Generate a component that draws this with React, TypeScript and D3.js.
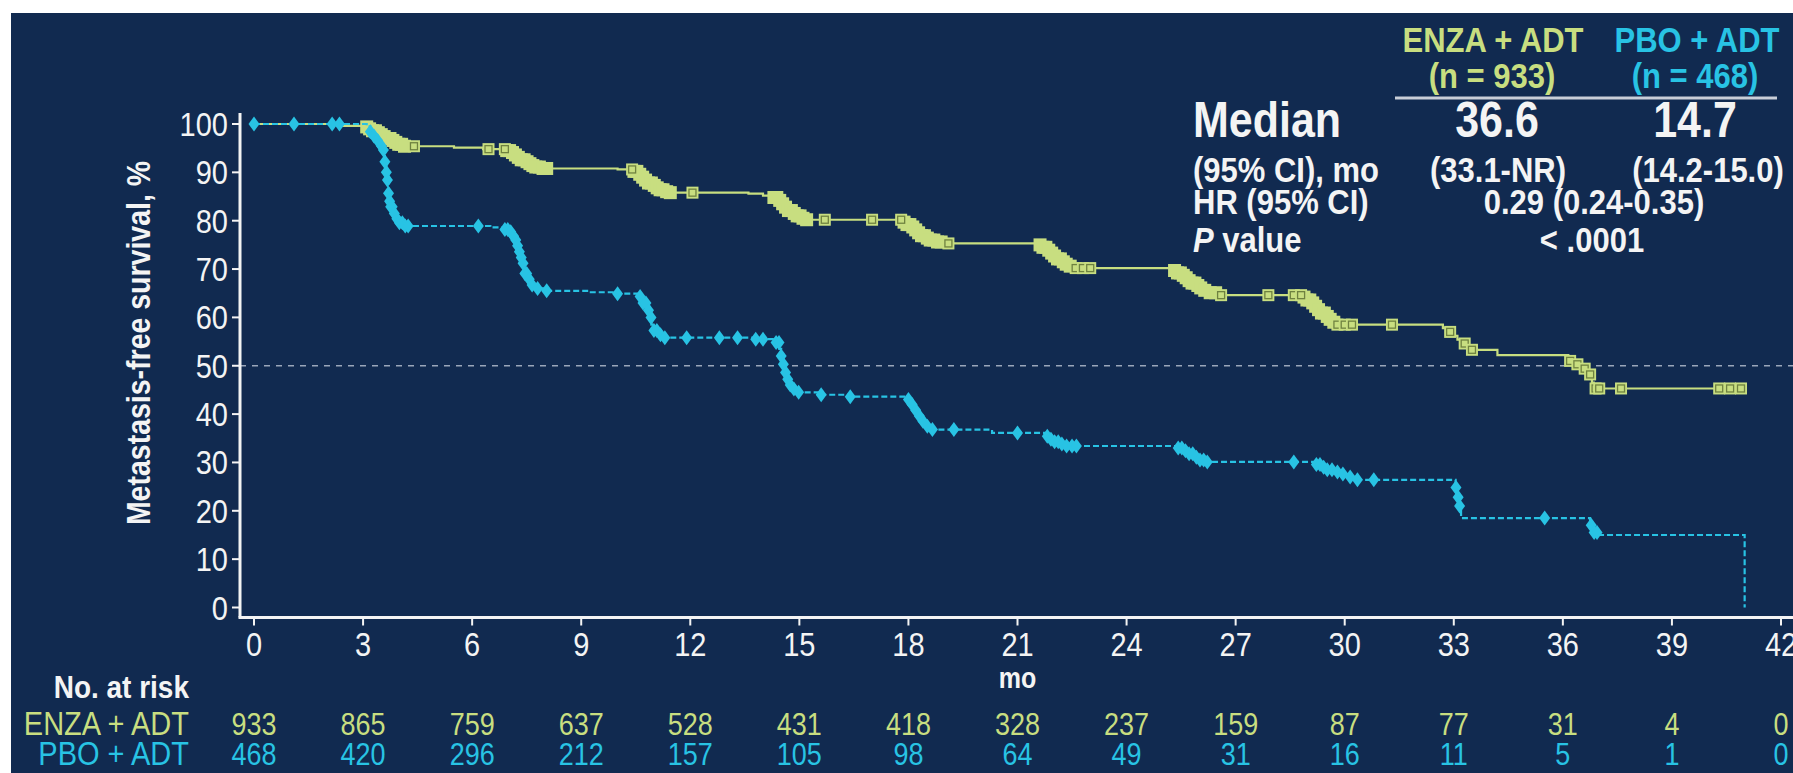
import React from "react";
import * as d3 from "d3";

// ---------- data ----------
const xTicks = [0, 3, 6, 9, 12, 15, 18, 21, 24, 27, 30, 33, 36, 39, 42];
const yTicks = [0, 10, 20, 30, 40, 50, 60, 70, 80, 90, 100];

const enzaRisk = [933, 865, 759, 637, 528, 431, 418, 328, 237, 159, 87, 77, 31, 4, 0];
const pboRisk = [468, 420, 296, 212, 157, 105, 98, 64, 49, 31, 16, 11, 5, 1, 0];

// ENZA + ADT Kaplan-Meier knots [month, survival %]
const enzaKnots: [number, number][] = [
  [0, 100], [2.3, 99.6],
  [3.05, 99.4], [3.15, 99.0], [3.25, 98.6], [3.35, 98.2], [3.45, 97.8], [3.55, 97.4], [3.65, 97.0], [3.75, 96.6], [3.85, 96.2], [3.95, 95.8], [4.1, 95.4],
  [5.5, 95.1], [6.3, 94.8],
  [6.95, 94.5], [7.05, 94.1], [7.15, 93.6], [7.25, 93.1], [7.35, 92.6], [7.45, 92.2], [7.55, 91.8], [7.65, 91.4], [7.75, 91.1], [7.9, 90.8],
  [10.0, 90.6],
  [10.45, 90.2], [10.55, 89.6], [10.65, 89.0], [10.75, 88.4], [10.85, 87.8], [10.95, 87.3], [11.05, 86.8], [11.15, 86.4], [11.3, 86.0], [11.45, 85.8],
  [13.6, 85.6], [14.0, 85.2],
  [14.3, 84.8], [14.4, 84.2], [14.5, 83.5], [14.6, 82.8], [14.7, 82.1], [14.8, 81.5], [14.9, 81.0], [15.05, 80.5], [15.2, 80.2],
  [17.85, 79.7], [17.95, 79.2], [18.05, 78.7], [18.15, 78.1], [18.25, 77.5], [18.35, 76.9], [18.45, 76.4], [18.6, 76.0], [18.75, 75.6], [18.95, 75.3],
  [21.6, 75.0], [21.7, 74.5], [21.8, 73.9], [21.9, 73.3], [22.0, 72.7], [22.1, 72.1], [22.2, 71.5], [22.3, 71.0], [22.45, 70.6], [22.6, 70.2],
  [25.3, 69.7], [25.4, 69.2], [25.5, 68.7], [25.6, 68.2], [25.7, 67.6], [25.8, 67.1], [25.9, 66.6], [26.0, 66.1], [26.15, 65.6], [26.3, 65.1], [26.5, 64.6],
  [28.85, 64.2], [28.95, 63.6], [29.05, 63.0], [29.15, 62.3], [29.25, 61.6], [29.35, 60.9], [29.45, 60.2], [29.55, 59.6], [29.65, 59.0], [29.8, 58.5],
  [32.7, 57.8], [32.85, 57.0], [33.0, 56.2], [33.1, 55.4], [33.2, 54.6], [33.35, 53.9], [33.5, 53.3],
  [34.2, 52.2],
  [36.15, 51.0], [36.35, 50.3], [36.55, 49.4], [36.7, 48.2], [36.8, 46.5], [36.85, 45.3],
  [40.95, 45.3],
];

// ENZA censor marks (open squares)
const enzaCensor = [4.4, 6.45, 6.9, 10.4, 12.06, 15.7, 17.0, 17.8, 19.1, 22.6, 22.8, 23.0, 26.6, 27.9, 28.6, 28.8,
  29.8, 30.0, 30.2, 31.3, 32.9, 33.3, 33.5, 36.2, 36.4, 36.6, 36.75, 36.9, 37.0, 37.6, 40.3, 40.6, 40.9];
// dense ENZA marks along steep drops
const enzaDense = [3.1, 3.18, 3.26, 3.34, 3.42, 3.5, 3.58, 3.66, 3.74, 3.82, 3.9, 3.98, 4.06, 4.14,
  6.95, 7.03, 7.11, 7.19, 7.27, 7.35, 7.43, 7.51, 7.59, 7.67, 7.75, 7.85, 7.95, 8.05,
  10.45, 10.53, 10.61, 10.69, 10.77, 10.85, 10.93, 11.01, 11.09, 11.17, 11.25, 11.35, 11.45,
  14.3, 14.38, 14.46, 14.54, 14.62, 14.7, 14.78, 14.86, 14.94, 15.02, 15.1, 15.2,
  17.88, 17.96, 18.04, 18.12, 18.2, 18.28, 18.36, 18.44, 18.52, 18.6, 18.7, 18.8, 18.9,
  21.62, 21.7, 21.78, 21.86, 21.94, 22.02, 22.1, 22.18, 22.26, 22.34, 22.45,
  25.32, 25.4, 25.48, 25.56, 25.64, 25.72, 25.8, 25.88, 25.96, 26.04, 26.15, 26.3, 26.45,
  28.88, 28.96, 29.04, 29.12, 29.2, 29.28, 29.36, 29.44, 29.52, 29.6, 29.7];

// PBO + ADT Kaplan-Meier knots [month, survival %]
const pboKnots: [number, number][] = [
  [0, 100],
  [3.1, 99.5], [3.2, 98.4], [3.3, 97.5], [3.4, 96.6], [3.5, 95.5], [3.56, 94.6], [3.6, 92.2], [3.64, 90.0], [3.67, 88.4], [3.7, 85.7], [3.73, 84.0], [3.76, 82.9], [3.82, 81.5], [3.9, 80.4], [4.0, 79.6], [4.15, 78.9],
  [6.5, 78.6],
  [6.9, 78.2], [7.0, 77.7], [7.1, 76.8], [7.18, 76.0], [7.23, 74.8], [7.27, 73.6], [7.32, 72.4], [7.36, 71.2], [7.41, 70.1], [7.45, 69.1], [7.52, 67.9], [7.59, 66.7], [7.75, 66.0], [7.95, 65.5],
  [9.2, 65.2], [10.0, 64.9],
  [10.6, 64.3], [10.7, 63.0], [10.8, 61.5], [10.87, 60.0], [10.93, 58.5], [11.0, 57.3], [11.1, 56.4], [11.25, 55.8],
  [13.8, 55.5],
  [14.35, 54.8], [14.45, 53.5], [14.5, 52.0], [14.55, 50.3], [14.6, 48.6], [14.65, 47.2], [14.72, 46.0], [14.8, 45.2], [14.95, 44.5],
  [15.6, 44.0], [16.4, 43.6],
  [17.95, 43.0], [18.05, 42.0], [18.15, 40.8], [18.25, 39.6], [18.35, 38.5], [18.5, 37.5], [18.65, 36.8],
  [20.3, 36.1],
  [21.8, 35.4], [21.9, 34.8], [22.0, 34.3], [22.15, 33.8], [22.35, 33.4],
  [25.4, 33.0], [25.55, 32.4], [25.7, 31.8], [25.85, 31.1], [26.0, 30.5], [26.15, 30.1],
  [29.2, 29.6], [29.35, 29.0], [29.5, 28.5], [29.7, 28.0], [29.9, 27.6], [30.1, 27.0], [30.3, 26.4],
  [33.05, 24.8], [33.1, 22.8], [33.15, 21.0], [33.2, 18.5],
  [36.75, 17.0], [36.85, 15.5], [36.95, 15.0],
  [41.0, 0],
];

// PBO censor marks (filled diamonds)
const pboCensor = [0, 1.1, 2.15, 2.35,
  3.2, 3.3, 3.4, 3.5, 3.56, 3.6, 3.64, 3.67, 3.7, 3.73, 3.76, 3.8, 3.86, 3.93, 4.0, 4.08, 4.16, 4.24,
  6.17, 6.9, 6.98, 7.06, 7.14, 7.2, 7.25, 7.3, 7.35, 7.4, 7.45, 7.5, 7.57, 7.65, 7.8, 8.05,
  10.0, 10.62, 10.7, 10.78, 10.85, 10.92, 11.0, 11.08, 11.18, 11.3, 11.9, 12.8, 13.3, 13.8, 14.0,
  14.36, 14.44, 14.5, 14.56, 14.62, 14.68, 14.75, 14.85, 14.98, 15.6, 16.4,
  18.0, 18.1, 18.2, 18.3, 18.4, 18.52, 18.66, 19.25, 21.0,
  21.82, 21.92, 22.02, 22.12, 22.22, 22.35, 22.5, 22.62,
  25.42, 25.52, 25.62, 25.72, 25.82, 25.92, 26.02, 26.12, 26.22, 28.6,
  29.22, 29.32, 29.42, 29.52, 29.65, 29.8, 29.95, 30.15, 30.35, 30.8,
  33.06, 33.12, 33.16, 35.5, 36.78, 36.86, 36.94];

// ---------- helpers ----------
const survAt = (knots: [number, number][], t: number) => {
  let s = knots[0][1];
  for (const [kt, ks] of knots) {
    if (kt <= t + 1e-9) s = ks;
    else break;
  }
  return s;
};

const W = 1793;
const H = 773;
const BG = "#112a50";
const GREEN = "#c8de80";
const BLUE = "#28c3e4";
const WHITE = "#f4f4f4";
const FONT = "'Liberation Sans', Arial, Helvetica, sans-serif";
const K = 1.15; // glyph height stretch seen in the reference

type TProps = {
  x: number;
  y: number;
  size: number;
  fill?: string;
  anchor?: "start" | "middle" | "end";
  bold?: boolean;
  rotate?: number;
  dy?: string;
  children: React.ReactNode;
};
const T = ({ x, y, size, fill = WHITE, anchor = "start", bold = false, rotate, dy, children }: TProps) => (
  <text
    transform={`translate(${x},${y})${rotate ? ` rotate(${rotate})` : ""} scale(1,${K})`}
    textAnchor={anchor}
    fill={fill}
    fontSize={size}
    fontWeight={bold ? "bold" : "normal"}
    dy={dy}
  >
    {children}
  </text>
);

export default function App() {
  const x = d3.scaleLinear().domain([0, 42]).range([254, 1781]);
  const y = d3.scaleLinear().domain([0, 100]).range([607.5, 124]);
  const line = d3
    .line<[number, number]>()
    .x((d) => x(d[0]))
    .y((d) => y(d[1]))
    .curve(d3.curveStepAfter);

  const axisY = 617.5;
  const axisX = 240;

  const diamond = "M0,-7.5L5.5,0L0,7.5L-5.5,0Z";

  return (
    <svg
      width={W}
      height={H}
      style={{ position: "absolute", left: 0, top: 0 }}
      fontFamily={FONT}
    >
      <rect x={0} y={0} width={W} height={H} fill="#ffffff" />
      <rect x={11} y={13} width={W - 11} height={H - 13} fill={BG} />

      {/* 50% reference */}
      <line x1={axisX} x2={W} y1={y(50)} y2={y(50)} stroke="#9aa6ba" strokeWidth={1.5} strokeDasharray="6 6" />

      {/* axes */}
      <line x1={axisX} x2={axisX} y1={113} y2={axisY} stroke={WHITE} strokeWidth={3} />
      <line x1={axisX - 1.5} x2={W} y1={axisY} y2={axisY} stroke={WHITE} strokeWidth={3} />
      {yTicks.map((v) => (
        <g key={"yt" + v}>
          <line x1={axisX - 8} x2={axisX} y1={y(v)} y2={y(v)} stroke={WHITE} strokeWidth={2} />
          <T x={axisX - 12} y={y(v)} dy="0.36em" anchor="end" size={29}>
            {v}
          </T>
        </g>
      ))}
      {xTicks.map((v) => (
        <g key={"xt" + v}>
          <line x1={x(v)} x2={x(v)} y1={axisY} y2={axisY + 8} stroke={WHITE} strokeWidth={2} />
          <T x={x(v)} y={656} anchor="middle" size={29}>
            {v}
          </T>
        </g>
      ))}
      <T x={x(21)} y={688} anchor="middle" size={25} bold>
        mo
      </T>
      <T x={150} y={343} rotate={-90} anchor="middle" size={28.5} bold>
        Metastasis-free survival, %
      </T>

      {/* ENZA curve */}
      <path d={line(enzaKnots) || ""} fill="none" stroke={GREEN} strokeWidth={2.2} />
      {enzaDense.map((t, i) => (
        <rect key={"ed" + i} x={x(t) - 6.5} y={y(survAt(enzaKnots, t)) - 6.5} width={13} height={13} fill={GREEN} />
      ))}
      {enzaCensor.map((t, i) => (
        <g key={"ec" + i} transform={`translate(${x(t)},${y(survAt(enzaKnots, t))})`}>
          <rect x={-6} y={-6} width={12} height={12} fill={GREEN} />
          <rect x={-3.5} y={-3.5} width={7} height={7} fill="none" stroke="#6f8240" strokeWidth={1.3} />
        </g>
      ))}

      {/* PBO curve */}
      <path d={line(pboKnots) || ""} fill="none" stroke={BLUE} strokeWidth={2.2} strokeDasharray="6 3" />
      {pboCensor.map((t, i) => (
        <path key={"pc" + i} d={diamond} transform={`translate(${x(t)},${y(survAt(pboKnots, t))})`} fill={BLUE} />
      ))}

      {/* stats block */}
      <T x={1493} y={52} anchor="middle" fill={GREEN} size={31} bold>ENZA + ADT</T>
      <T x={1697} y={52} anchor="middle" fill={BLUE} size={31} bold>PBO + ADT</T>
      <T x={1492} y={88} anchor="middle" fill={GREEN} size={31} bold>(n = 933)</T>
      <T x={1695} y={88} anchor="middle" fill={BLUE} size={31} bold>(n = 468)</T>
      <line x1={1395} x2={1777} y1={98} y2={98} stroke="#c9ced8" strokeWidth={3} />
      <T x={1193} y={137} size={43} bold>Median</T>
      <T x={1497} y={137} anchor="middle" size={43} bold>36.6</T>
      <T x={1695} y={137} anchor="middle" size={43} bold>14.7</T>
      <T x={1193} y={182} size={31} bold>(95% CI), mo</T>
      <T x={1498} y={182} anchor="middle" size={31} bold>(33.1-NR)</T>
      <T x={1708} y={182} anchor="middle" size={31} bold>(14.2-15.0)</T>
      <T x={1193} y={214} size={31} bold>HR (95% CI)</T>
      <T x={1594} y={214} anchor="middle" size={31} bold>0.29 (0.24-0.35)</T>
      <T x={1193} y={252} size={31} bold>
        <tspan fontStyle="italic">P</tspan> value
      </T>
      <T x={1592} y={252} anchor="middle" size={31} bold>&lt; .0001</T>

      {/* risk table */}
      <T x={189} y={698} anchor="end" size={28} bold>No. at risk</T>
      <T x={189} y={735} anchor="end" fill={GREEN} size={29}>ENZA + ADT</T>
      <T x={189} y={765} anchor="end" fill={BLUE} size={29}>PBO + ADT</T>
      {enzaRisk.map((v, i) => (
        <T key={"er" + i} x={x(xTicks[i])} y={735} anchor="middle" fill={GREEN} size={27}>{v}</T>
      ))}
      {pboRisk.map((v, i) => (
        <T key={"pr" + i} x={x(xTicks[i])} y={765} anchor="middle" fill={BLUE} size={27}>{v}</T>
      ))}
    </svg>
  );
}
